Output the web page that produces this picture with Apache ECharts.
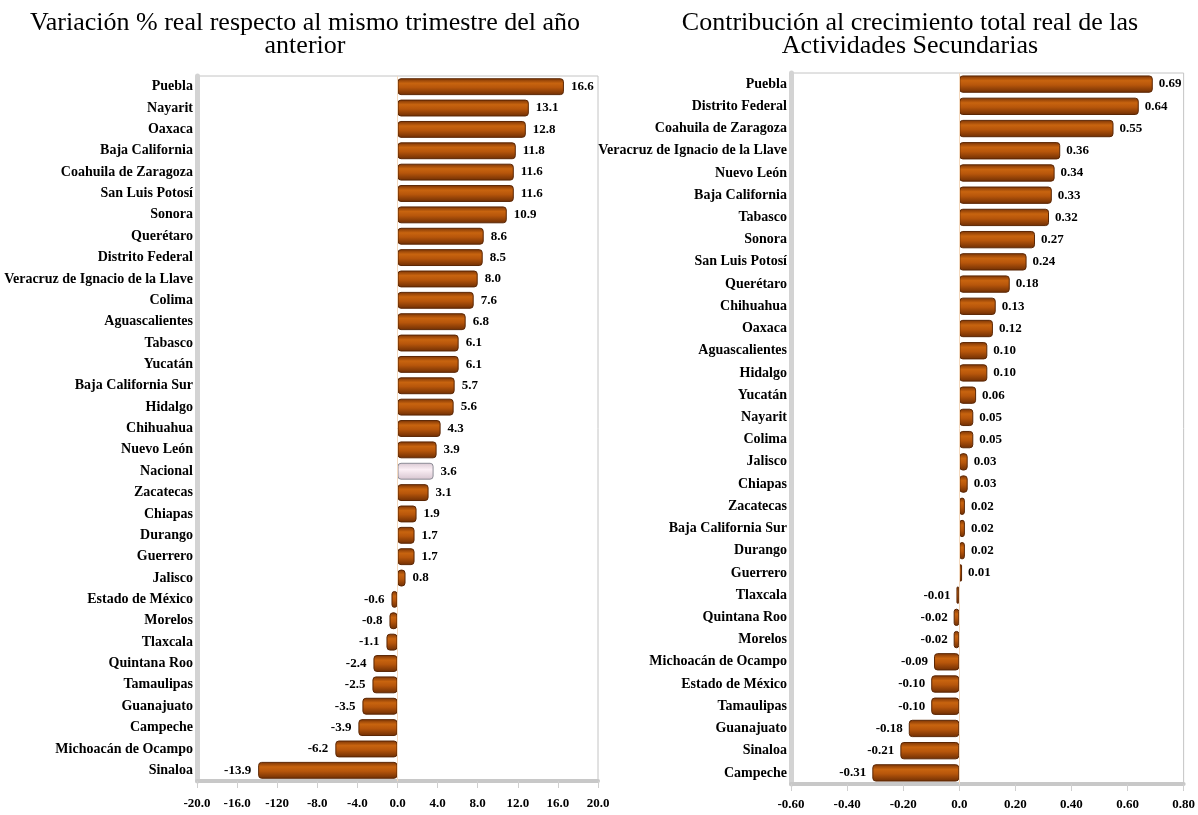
<!DOCTYPE html>
<html>
<head>
<meta charset="utf-8">
<script src="https://cdn.jsdelivr.net/npm/echarts@6/dist/echarts.min.js"></script>
<style>
  html, body { margin: 0; padding: 0; background: #fff; }
  #chart { width: 1198px; height: 815px; }
</style>
</head>
<body>
<div id="chart"></div>
<script>
// Variación % anual por entidad (panel izquierdo)
const varCategories = [
  'Puebla', 'Nayarit', 'Oaxaca', 'Baja California', 'Coahuila de Zaragoza',
  'San Luis Potosí', 'Sonora', 'Querétaro', 'Distrito Federal',
  'Veracruz de Ignacio de la Llave', 'Colima', 'Aguascalientes', 'Tabasco',
  'Yucatán', 'Baja California Sur', 'Hidalgo', 'Chihuahua', 'Nuevo León',
  'Nacional', 'Zacatecas', 'Chiapas', 'Durango', 'Guerrero', 'Jalisco',
  'Estado de México', 'Morelos', 'Tlaxcala', 'Quintana Roo', 'Tamaulipas',
  'Guanajuato', 'Campeche', 'Michoacán de Ocampo', 'Sinaloa'
];
const varValues = [
  16.6, 13.1, 12.8, 11.8, 11.6, 11.6, 10.9, 8.6, 8.5, 8.0, 7.6, 6.8, 6.1,
  6.1, 5.7, 5.6, 4.3, 3.9, 3.6, 3.1, 1.9, 1.7, 1.7, 0.8, -0.6, -0.8, -1.1,
  -2.4, -2.5, -3.5, -3.9, -6.2, -13.9
];
const varTickLabels = {
  '-20': '-20.0', '-16': '-16.0', '-12': '-120', '-8': '-8.0', '-4': '-4.0',
  '0': '0.0', '4': '4.0', '8': '8.0', '12': '12.0', '16': '16.0', '20': '20.0'
};

// Contribución al crecimiento (panel derecho)
const conCategories = [
  'Puebla', 'Distrito Federal', 'Coahuila de Zaragoza',
  'Veracruz de Ignacio de la Llave', 'Nuevo León', 'Baja California',
  'Tabasco', 'Sonora', 'San Luis Potosí', 'Querétaro', 'Chihuahua', 'Oaxaca',
  'Aguascalientes', 'Hidalgo', 'Yucatán', 'Nayarit', 'Colima', 'Jalisco',
  'Chiapas', 'Zacatecas', 'Baja California Sur', 'Durango', 'Guerrero',
  'Tlaxcala', 'Quintana Roo', 'Morelos', 'Michoacán de Ocampo',
  'Estado de México', 'Tamaulipas', 'Guanajuato', 'Sinaloa', 'Campeche'
];
const conValues = [
  0.69, 0.64, 0.55, 0.36, 0.34, 0.33, 0.32, 0.27, 0.24, 0.18, 0.13, 0.12,
  0.10, 0.10, 0.06, 0.05, 0.05, 0.03, 0.03, 0.02, 0.02, 0.02, 0.01, -0.01,
  -0.02, -0.02, -0.09, -0.10, -0.10, -0.18, -0.21, -0.31
];
const conTickLabels = {
  '-0.6': '-0.60', '-0.4': '-0.40', '-0.2': '-0.20', '0': '0.0',
  '0.2': '0.20', '0.4': '0.40', '0.6': '0.60', '0.8': '0.80'
};

const serif = '"Liberation Serif", "Times New Roman", serif';

const barFill = new echarts.graphic.LinearGradient(0, 0, 0, 1, [
  { offset: 0, color: '#7a3305' },
  { offset: 0.3, color: '#c8640f' },
  { offset: 0.55, color: '#b7560b' },
  { offset: 1, color: '#6e2e04' }
]);
const nacionalFill = new echarts.graphic.LinearGradient(0, 0, 0, 1, [
  { offset: 0, color: '#d9c8d2' },
  { offset: 0.4, color: '#fbeff5' },
  { offset: 1, color: '#d6c4cf' }
]);

function barData(cats, vals, digits) {
  return vals.map((v, i) => {
    const isNac = cats[i] === 'Nacional';
    return {
      value: v,
      itemStyle: {
        color: isNac ? nacionalFill : barFill,
        borderColor: isNac ? '#8c8c96' : '#5a2604',
        borderWidth: 1,
        borderRadius: 3
      },
      label: {
        position: v >= 0 ? 'right' : 'left',
        formatter: () => v.toFixed(digits)
      }
    };
  });
}

const catStyle = { fontFamily: serif, fontWeight: 'bold', fontSize: 14, color: '#000' };
const valStyle = { fontFamily: serif, fontWeight: 'bold', fontSize: 13, color: '#000' };
const titleStyle = { fontFamily: serif, fontWeight: 'normal', fontSize: 26, color: '#000', lineHeight: 23 };

const chart = echarts.init(document.getElementById('chart'), null, { renderer: 'canvas' });
chart.setOption({
  backgroundColor: '#fff',
  animation: false,
  title: [
    {
      text: 'Variación % real respecto al mismo trimestre del año\nanterior',
      left: 300, top: 7, textAlign: 'center', textStyle: titleStyle
    },
    {
      text: 'Contribución al crecimiento total real de las\nActividades Secundarias',
      left: 905, top: 7, textAlign: 'center', textStyle: titleStyle
    }
  ],
  grid: [
    { left: 197, right: 600, top: 76, bottom: 34, show: true, borderColor: '#c4c4c4', borderWidth: 1 },
    { left: 791, right: 8, top: 73, bottom: 31, show: true, borderColor: '#c4c4c4', borderWidth: 1 }
  ],
  xAxis: [
    {
      gridIndex: 0, type: 'value', min: -20, max: 20, interval: 4,
      splitLine: { show: false },
      axisLine: { show: true, lineStyle: { color: '#c8c8c8', width: 4 } },
      axisTick: { show: true, length: 7, lineStyle: { color: '#cfcfcf' } },
      axisLabel: Object.assign({ margin: 16, formatter: v => varTickLabels[String(v)] || '' }, valStyle)
    },
    {
      gridIndex: 1, type: 'value', min: -0.6, max: 0.8, interval: 0.2,
      splitLine: { show: false },
      axisLine: { show: true, lineStyle: { color: '#c8c8c8', width: 4 } },
      axisTick: { show: true, length: 7, lineStyle: { color: '#cfcfcf' } },
      axisLabel: Object.assign({ margin: 14, formatter: v => conTickLabels[String(Math.round(v * 10) / 10)] || '' }, valStyle)
    }
  ],
  yAxis: [
    {
      gridIndex: 0, type: 'category', data: varCategories, inverse: true,
      axisLine: { show: true, onZero: false, lineStyle: { color: '#d3d3d3', width: 5 } },
      axisTick: { show: false },
      axisLabel: Object.assign({ margin: 4, interval: 0 }, catStyle)
    },
    {
      gridIndex: 1, type: 'category', data: conCategories, inverse: true,
      axisLine: { show: true, onZero: false, lineStyle: { color: '#d3d3d3', width: 5 } },
      axisTick: { show: false },
      axisLabel: Object.assign({ margin: 4, interval: 0 }, catStyle)
    }
  ],
  series: [
    {
      type: 'bar', xAxisIndex: 0, yAxisIndex: 0,
      barWidth: '79%',
      data: barData(varCategories, varValues, 1),
      label: Object.assign({ show: true, distance: 7 }, valStyle),
      markLine: {
        silent: true, symbol: 'none', label: { show: false },
        lineStyle: { color: '#f3d9bf', type: 'solid', width: 1 },
        data: [{ xAxis: 0 }]
      }
    },
    {
      type: 'bar', xAxisIndex: 1, yAxisIndex: 1,
      barWidth: '78%',
      data: barData(conCategories, conValues, 2),
      label: Object.assign({ show: true, distance: 6 }, valStyle),
      markLine: {
        silent: true, symbol: 'none', label: { show: false },
        lineStyle: { color: '#f3d9bf', type: 'solid', width: 1 },
        data: [{ xAxis: 0 }]
      }
    }
  ]
});
</script>
</body>
</html>
